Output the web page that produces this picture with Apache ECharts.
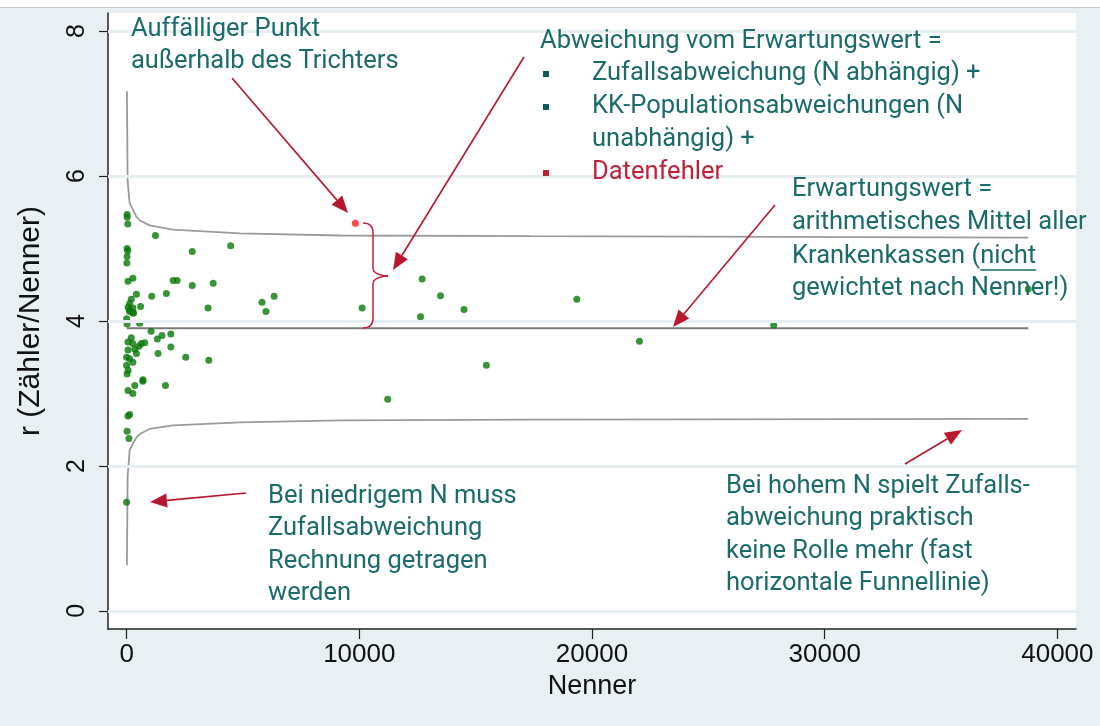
<!DOCTYPE html>
<html><head><meta charset="utf-8">
<script src="https://cdn.jsdelivr.net/npm/echarts@6/dist/echarts.min.js"></script>
<style>
html,body{margin:0;padding:0;background:#fff;}
#bg{position:absolute;left:0;top:7px;width:1100px;height:719px;background:#e8f0f3;border-top:1px solid #c4c4c4;box-sizing:border-box;}
#chart{position:absolute;left:0;top:0;width:1100px;height:726px;}
</style></head><body><div id="bg"></div><div id="chart"></div>
<script>
// ---- data ----
const xTicks = [0, 10000, 20000, 30000, 40000];
const yTicks = [0, 2, 4, 6, 8];
const points = [
  [20,5.47],[25,5.43],[50,5.34],
  [20,5.00],[50,4.97],[20,4.89],[10,4.80],
  [60,4.55],[270,4.59],[420,4.37],
  [200,4.30],[130,4.24],[60,4.19],[270,4.18],[600,4.20],[130,4.13],[300,4.11],
  [130,4.15],[270,4.11],[0,4.03],[20,3.96],[560,3.97],
  [60,3.71],[200,3.77],[270,3.69],[530,3.65],[630,3.69],[780,3.70],
  [60,3.60],[350,3.61],[420,3.55],[0,3.50],[130,3.48],[270,3.43],
  [0,3.39],[60,3.32],[20,3.27],[700,3.17],[350,3.11],[60,3.04],[270,3.00],
  [60,2.69],[130,2.71],[20,2.48],[100,2.38],[0,1.50],
  [1240,5.18],[2820,4.96],[4470,5.04],
  [2000,4.56],[2170,4.56],[2820,4.49],[3720,4.52],
  [1080,4.34],[1710,4.38],[3500,4.18],[5820,4.26],[6340,4.34],[5990,4.13],
  [1050,3.86],[1520,3.80],[1900,3.82],[1320,3.75],[1900,3.64],[1350,3.55],
  [2540,3.50],[3530,3.46],[700,3.19],[1670,3.11],
  [10120,4.18],[12700,4.58],[13490,4.35],[12630,4.06],[14500,4.16],
  [19350,4.30],[22040,3.72],[27810,3.94],[15460,3.39],[11220,2.92],[38750,4.44]
];
const outlier = [[9830,5.35]];
const upperFunnel = [[13,7.17],[43,5.94],[129,5.63],[418,5.44],[560,5.39],[991,5.32],[1983,5.26],[4870,5.21],[9180,5.18],[17370,5.17],[38750,5.15]];
const lowerFunnel = [[13,0.63],[43,1.86],[100,2.08],[129,2.22],[418,2.39],[560,2.44],[991,2.51],[1983,2.56],[4870,2.60],[9180,2.63],[17370,2.64],[38750,2.65]];
const expectedLine = [[13,3.9],[38750,3.9]];

// ---- annotation style ----
const TEAL = '#1b6b6b', RED = '#c21f3a', ARR = '#b8172f';
const FONT = '25.5px Roboto';
function txt(x, y, s, color) {
  return {type:'text', x:x, y:y, style:{text:s, fill:color||TEAL, font:FONT, verticalAlign:'middle', align:'left'}, z:100};
}
function arrow(x1,y1,x2,y2){
  const dx=x2-x1, dy=y2-y1, L=Math.hypot(dx,dy), ux=dx/L, uy=dy/L;
  const hl=17, hw=7, bx=x2-ux*hl, by=y2-uy*hl;
  return [
    {type:'line', shape:{x1:x1,y1:y1,x2:bx,y2:by}, style:{stroke:ARR, lineWidth:1.6}, z:100},
    {type:'polygon', shape:{points:[[x2,y2],[bx-uy*hw,by+ux*hw],[bx+uy*hw,by-ux*hw]]}, style:{fill:ARR}, z:100}
  ];
}
function bullet(cx, cy, color){
  return {type:'rect', shape:{x:cx-3, y:cy-3, width:6, height:6}, style:{fill:color}, z:100};
}
function bz(x1,y1,cx,cy,x2,y2){
  return {type:'bezierCurve', shape:{x1:x1,y1:y1,cpx1:cx,cpy1:cy,x2:x2,y2:y2}, style:{stroke:RED, lineWidth:1.5, fill:null}, z:100};
}
function ln(x1,y1,x2,y2,color){
  return {type:'line', shape:{x1:x1,y1:y1,x2:x2,y2:y2}, style:{stroke:color||RED, lineWidth:1.5}, z:100};
}
const mctx = document.createElement('canvas').getContext('2d');
mctx.font = FONT;
const w1 = mctx.measureText('Krankenkassen (').width;
const w2 = mctx.measureText('nicht').width;

const graphics = [
  txt(131,30,'Auffälliger Punkt'), txt(131,62,'außerhalb des Trichters'),
  txt(540,42,'Abweichung vom Erwartungswert ='),
  bullet(546,74,'#0f5a5a'), txt(592,74,'Zufallsabweichung (N abhängig) +'),
  bullet(546,107,'#0f5a5a'), txt(592,107,'KK-Populationsabweichungen (N'),
  txt(592,140,'unabhängig) +'),
  bullet(546,173,RED), txt(592,173,'Datenfehler',RED),
  txt(792,190,'Erwartungswert ='), txt(792,223,'arithmetisches Mittel aller'),
  txt(792,257,'Krankenkassen (nicht'), txt(792,289,'gewichtet nach Nenner!)'),
  ln(792+w1,270,792+w1+w2,270,TEAL),
  txt(268,497,'Bei niedrigem N muss'), txt(268,529,'Zufallsabweichung'),
  txt(268,562,'Rechnung getragen'), txt(268,594,'werden'),
  txt(726,487,'Bei hohem N spielt Zufalls-'), txt(726,519,'abweichung praktisch'),
  txt(726,552,'keine Rolle mehr (fast'), txt(726,584,'horizontale Funnellinie)'),
  bz(363,223,373,223,373,233), ln(373,233,373,268), bz(373,268,373,275,388,276),
  bz(388,276,373,277,373,284), ln(373,284,373,318), bz(373,318,373,328,363,328)
].concat(arrow(232,78,348,213), arrow(524,57,393,270), arrow(775,205,673,327), arrow(246,493,150,502), arrow(905,464,962,430));

const chart = echarts.init(document.getElementById('chart'), null, {renderer:'canvas'});
const axisFont = 'Liberation Sans';
chart.setOption({
  backgroundColor:'transparent',
  animation:false,
  grid:{left:108, right:24, top:13, bottom:97, show:true, backgroundColor:'#fff', borderWidth:0},
  xAxis:{
    type:'value', min:-800, max:40800,
    axisLine:{show:true, onZero:false, lineStyle:{color:'#222', width:1.5}},
    axisTick:{show:true, length:10, customValues:xTicks, lineStyle:{color:'#222', width:1.2}},
    axisLabel:{customValues:xTicks, formatter:v=>String(v), fontFamily:axisFont, fontSize:26, color:'#111', margin:13},
    splitLine:{show:false},
    name:'Nenner', nameLocation:'middle', nameGap:44,
    nameTextStyle:{fontFamily:axisFont, fontSize:27, color:'#111'}
  },
  yAxis:{
    type:'value', min:-0.25, max:8.25,
    axisLine:{show:true, onZero:false, lineStyle:{color:'#222', width:1.5}},
    axisTick:{show:true, length:9, customValues:yTicks, lineStyle:{color:'#222', width:1.2}},
    axisLabel:{customValues:yTicks, formatter:v=>String(v), rotate:90, fontFamily:axisFont, fontSize:25, color:'#111', margin:18},
    splitLine:{show:false},
    name:'r (Zähler/Nenner)', nameLocation:'middle', nameGap:62, nameRotate:90,
    nameTextStyle:{fontFamily:axisFont, fontSize:30, color:'#111'}
  },
  series:[
    {type:'line', data:[], markLine:{silent:true, symbol:['none','none'], label:{show:false},
      lineStyle:{color:'#e6eef2', width:3, type:'solid'}, data:yTicks.map(v=>({yAxis:v}))}, z:1},
    {type:'line', data:upperFunnel, showSymbol:false, symbol:'none', lineStyle:{color:'#9a9a9a', width:1.8}, z:2},
    {type:'line', data:lowerFunnel, showSymbol:false, symbol:'none', lineStyle:{color:'#9a9a9a', width:1.8}, z:2},
    {type:'line', data:expectedLine, showSymbol:false, symbol:'none', lineStyle:{color:'#7a7a7a', width:1.8}, z:2},
    {type:'scatter', data:points, symbolSize:7, itemStyle:{color:'#087808'}, z:3},
    {type:'scatter', data:outlier, symbolSize:7, itemStyle:{color:'#ff1a1a'}, z:3}
  ],
  graphic:graphics
});
</script></body></html>
